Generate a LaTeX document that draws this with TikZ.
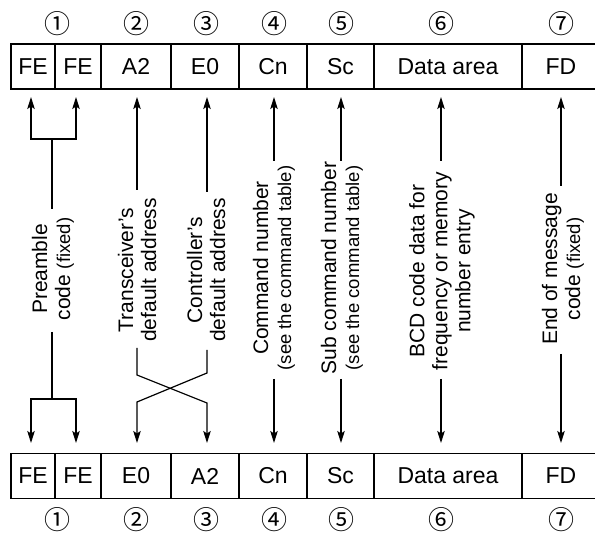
\documentclass[tikz,border=0pt]{standalone}
\usepackage{fontspec}
\setmainfont{Liberation Sans}
\newfontfamily\cjkfont{Noto Sans CJK JP}
\usetikzlibrary{arrows.meta}
\newcommand\sml{\fontsize{18.5}{23}\selectfont}
\begin{document}
\begin{tikzpicture}[x=1pt,y=-1pt,
  cell/.style={draw, line width=1.3pt, minimum height=45pt, inner sep=0pt, font=\fontsize{23}{26}\selectfont},
  num/.style={font=\cjkfont\fontsize{26}{26}\selectfont, inner sep=0pt},
  lab/.style={rotate=90, align=center, inner sep=0pt, font=\fontsize{21}{23}\selectfont},
  conn/.style={line width=1.2pt},
  arr/.style={conn, -{Stealth[length=12pt,width=7.5pt,inset=2.5pt]}}]
\clip (0,0) rectangle (595,534);
% top row
\node[cell, minimum width=44pt] (t1) at (33,66.5) {FE};
\node[cell, minimum width=46pt] (t2) at (78,66.5) {FE};
\node[cell, minimum width=70pt] (t3) at (136,66.5) {A2};
\node[cell, minimum width=68pt] (t4) at (205,66.5) {E0};
\node[cell, minimum width=68pt] (t5) at (273,66.5) {Cn};
\node[cell, minimum width=67pt] (t6) at (340.5,66.5) {Sc};
\node[cell, minimum width=148pt] (t7) at (448,66.5) {Data area};
\node[cell, minimum width=78pt] (t8) at (561,66.5) {FD};
% bottom row
\node[cell, minimum width=44pt] (b1) at (33,476) {FE};
\node[cell, minimum width=46pt] (b2) at (78,476) {FE};
\node[cell, minimum width=70pt] (b3) at (136,476) {E0};
\node[cell, minimum width=68pt] (b4) at (205,476) {A2};
\node[cell, minimum width=68pt] (b5) at (273,476) {Cn};
\node[cell, minimum width=67pt] (b6) at (340.5,476) {Sc};
\node[cell, minimum width=148pt] (b7) at (448,476) {Data area};
\node[cell, minimum width=78pt] (b8) at (561,476) {FD};
% circled numbers
\foreach \n/\x in {1/58,2/136,3/206,4/274,5/341,6/441,7/561}{
  \node[num] (tn\n) at (\x,24) {\ifcase\n\or ①\or ②\or ③\or ④\or ⑤\or ⑥\or ⑦\fi};
  \node[num] (bn\n) at (\x,520) {\ifcase\n\or ①\or ②\or ③\or ④\or ⑤\or ⑥\or ⑦\fi};
}
% labels
\node[lab] (l1) at (53,269) {Preamble\\code {\sml(fixed)}};
\node[lab] (l2) at (137,270) {Transceiver’s\\default address};
\node[lab] (l3) at (206,270) {Controller’s\\default address};
\node[lab] (l4) at (274,268) {Command number\\{\sml(see the command table)}};
\node[lab] (l5) at (342,268) {Sub command number\\{\sml(see the command table)}};
\node[lab] (l6) at (442,271) {BCD code data for\\frequency or memory\\number entry};
\node[lab] (l7) at (563,269) {End of message\\code {\sml(fixed)}};
% coordinates: arrow tips
\foreach \i/\x in {1/31,2/76,3/137,4/207,5/274,6/341,7/441,8/561}{
  \coordinate (ta\i) at (\x,97);
  \coordinate (ba\i) at (\x,443);
}
% top connectors
\coordinate (pA) at (52,209); \coordinate (pB) at (52,139);
\draw[arr] (pA) -- (pB) -| (ta1);
\draw[arr] (pB) -| (ta2);
\coordinate (s3) at (137,190); \draw[arr] (s3) -- (ta3);
\coordinate (s4) at (207,192); \draw[arr] (s4) -- (ta4);
\coordinate (s5) at (274,161); \draw[arr] (s5) -- (ta5);
\coordinate (s6) at (341,161); \draw[arr] (s6) -- (ta6);
\coordinate (s7) at (441,161); \draw[arr] (s7) -- (ta7);
\coordinate (s8) at (561,186); \draw[arr] (s8) -- (ta8);
% bottom connectors
\coordinate (qA) at (52,332); \coordinate (qB) at (52,399);
\draw[arr] (qA) -- (qB) -| (ba1);
\draw[arr] (qB) -| (ba2);
\coordinate (r3) at (137,348); \coordinate (r3a) at (137,375); \coordinate (r3b) at (207,403);
\draw[arr] (r3) -- (r3a) -- (r3b) -- (ba4);
\coordinate (r4) at (207,350); \coordinate (r4a) at (207,373); \coordinate (r4b) at (137,402);
\draw[arr] (r4) -- (r4a) -- (r4b) -- (ba3);
\coordinate (r5) at (274,379); \draw[arr] (r5) -- (ba5);
\coordinate (r6) at (341,379); \draw[arr] (r6) -- (ba6);
\coordinate (r7) at (441,379); \draw[arr] (r7) -- (ba7);
\coordinate (r8) at (561,354); \draw[arr] (r8) -- (ba8);
\end{tikzpicture}
\end{document}
